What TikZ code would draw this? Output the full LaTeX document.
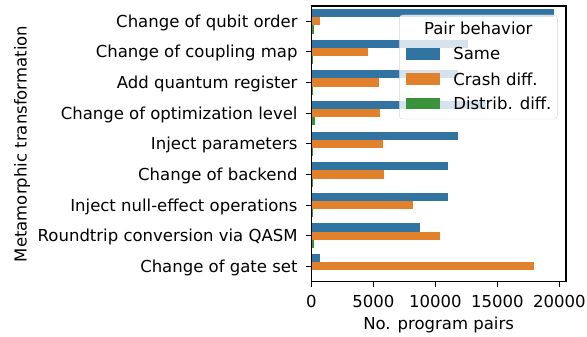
\documentclass[tikz,border=0pt]{standalone}
\usepackage{fontspec}
\setmainfont{DejaVu Sans}
\usepackage{xcolor}
\usetikzlibrary{positioning}
\definecolor{same}{HTML}{3274A1}
\definecolor{crash}{HTML}{E1812C}
\definecolor{distrib}{HTML}{3A923A}
\tikzset{
	x=1pt,
	y=-1pt,
	line width=1.1pt,
	font=\fontsize{16.5}{19.8}\selectfont,
	spine/.style={
		draw,
		line width=1.1pt
	},
	tickmark/.style={
		line width=1.1pt
	},
	ticklabel/.style={
		inner sep=0pt
	},
	legendbox/.style={
		draw=black!20,
		fill=white,
		fill opacity=.8,
		draw opacity=.8,
		rounded corners=3.3pt,
		inner sep=0pt,
		minimum width=158pt,
		minimum height=104pt
	},
	legendpatch/.style={
		inner sep=0pt,
		minimum width=33.3pt,
		minimum height=11.6pt
	},
	legendtext/.style={
		inner sep=0pt,
		text height=12pt,
		text depth=0pt
	}
}
\begin{document}
\begin{tikzpicture}
	\useasboundingbox (0,0) rectangle (587,337);

	% bars and category ticks (values in thousands)
	\foreach \lab/\s/\c/\d [count=\i] in {
		Change of qubit order/19.58/0.70/0.22,
		Change of coupling map/12.60/4.57/0.16,
		Add quantum register/11.80/5.46/0.16,
		Change of optimization level/14.06/5.54/0.30,
		Inject parameters/11.80/5.75/0.12,
		Change of backend/11.00/5.86/0.12,
		Inject null-effect operations/11.00/8.20/0.12,
		Roundtrip conversion via QASM/8.74/10.38/0.20,
		Change of gate set/0.70/17.96/0} {
		\pgfmathsetmacro{\yc}{6+30.63*(\i-0.5)}
		\fill[same] (311.3,\yc-12.25) rectangle ++(\s*12.4,8.17);
		\fill[crash] (311.3,\yc-4.08) rectangle ++(\c*12.4,8.17);
		\fill[distrib] (311.3,\yc+4.08) rectangle ++(\d*12.4,8.17);
		\draw[tickmark] (311.3,\yc) -- ++(-4.9,0);
		\node[ticklabel, anchor=base east] (cat\i) at (297.7,\yc+6) {\lab};
	}

	% value ticks
	\foreach \v/\t in {0/0,5/5000,10/10000,15/15000,20/20000} {
		\draw[tickmark] (311.3+\v*12.4,281.7) -- ++(0,4.9);
		\node[ticklabel, anchor=base] (xt\v) at (311.3+\v*12.4,307.3) {\t};
	}

	\draw[spine] (311.3,6) rectangle (566,281.7);

	\node[anchor=base] (xlabel) at (438.6,329.3) {No. program pairs};
	\node[anchor=base, rotate=90] (ylabel) at (26.7,143.9) {Metamorphic transformation};

	% legend
	\node[legendbox] (legend) at (478.3,67) {};
	\node[ticklabel, anchor=base] (title) at (478.3,35) {Pair behavior};
	\node[legendpatch, fill=same] (psame) at (423,54) {};
	\node[legendpatch, fill=crash, below=13pt of psame] (pcrash) {};
	\node[legendpatch, fill=distrib, below=12.6pt of pcrash] (pdistrib) {};
	\node[legendtext, right=13.3pt of psame] (tsame) {Same};
	\node[legendtext, right=13.3pt of pcrash] (tcrash) {Crash diff.};
	\node[legendtext, right=13.3pt of pdistrib] (tdistrib) {Distrib. diff.};
\end{tikzpicture}
\end{document}
